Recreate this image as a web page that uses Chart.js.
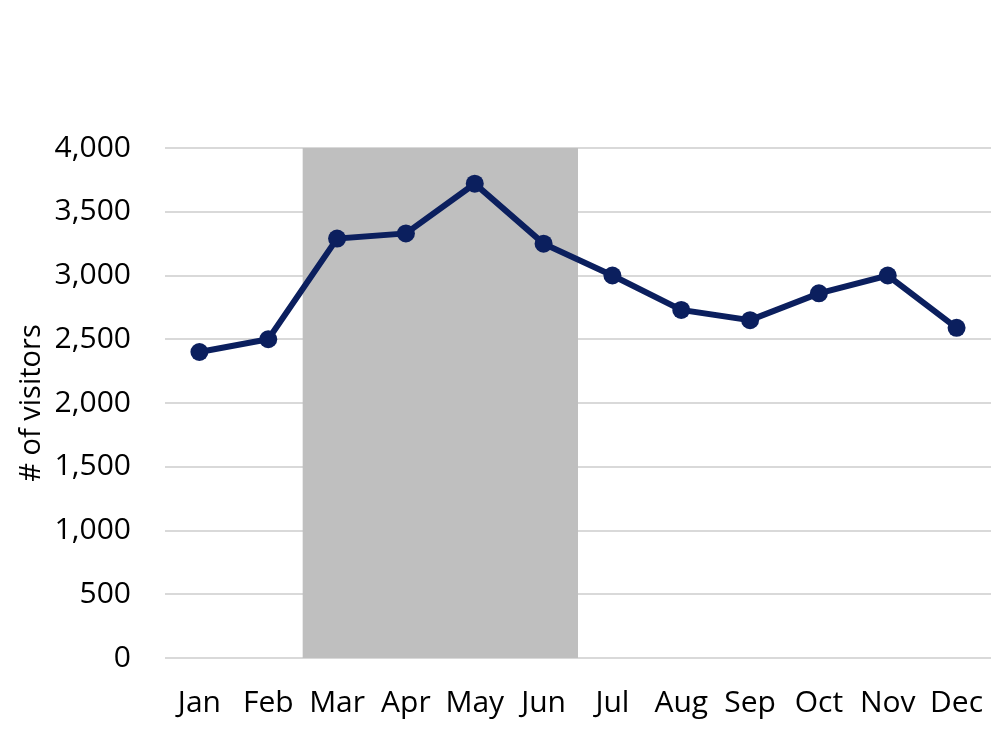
<!DOCTYPE html>
<html>
<head>
<meta charset="utf-8">
<script src="https://cdn.jsdelivr.net/npm/chart.js@4"></script>
<style>
  html, body { margin: 0; padding: 0; background: #fff; }
  #wrap { width: 1000px; height: 750px; }
</style>
</head>
<body>
<div id="wrap"><canvas id="visitors"></canvas></div>
<script>
const months = ["Jan", "Feb", "Mar", "Apr", "May", "Jun", "Jul", "Aug", "Sep", "Oct", "Nov", "Dec"];
const visitors = [2400, 2500, 3290, 3330, 3720, 3250, 3000, 2730, 2650, 2860, 3000, 2590];
const shadedRange = ["Mar", "Jun"];
const yTicks = [0, 500, 1000, 1500, 2000, 2500, 3000, 3500, 4000];

const navy = "#0B1F5E";
const font = "'Open Sans', 'Noto Sans', sans-serif";

// grey band behind the line, from half a category before Mar to half after Jun
const bandPlugin = {
  id: "band",
  beforeDatasetsDraw(chart) {
    const { ctx, scales } = chart;
    const x = scales.x;
    const y = scales.y;
    const i0 = months.indexOf(shadedRange[0]);
    const i1 = months.indexOf(shadedRange[1]);
    const half = (x.getPixelForValue(1) - x.getPixelForValue(0)) / 2;
    const left = x.getPixelForValue(i0) - half;
    const right = x.getPixelForValue(i1) + half;
    const top = y.getPixelForValue(yTicks[yTicks.length - 1]);
    const bottom = y.getPixelForValue(0);
    ctx.save();
    ctx.fillStyle = "#BFBFBF";
    ctx.fillRect(left, top, right - left, bottom - top);
    ctx.restore();
  }
};

new Chart(document.getElementById("visitors"), {
  type: "line",
  data: {
    labels: months,
    datasets: [
      {
        label: "# of visitors",
        data: visitors,
        borderColor: navy,
        backgroundColor: navy,
        borderWidth: 6,
        pointRadius: 9,
        pointHoverRadius: 9,
        pointBorderWidth: 0,
        tension: 0,
        fill: false,
      },
    ],
  },
  options: {
    responsive: true,
    maintainAspectRatio: false,
    animation: false,
    devicePixelRatio: 1,
    layout: { padding: { top: 148, right: 8, left: 14, bottom: 10 } },
    plugins: {
      legend: { display: false },
      tooltip: { enabled: false },
    },
    scales: {
      x: {
        offset: true,
        afterFit(axis) {
          axis.paddingLeft = 0;
          axis.paddingRight = 0;
        },
        grid: { display: false },
        border: { display: false },
        ticks: {
          color: "#000",
          font: { family: font, size: 30 },
          padding: 19,
          maxRotation: 0,
          autoSkip: false,
        },
      },
      y: {
        min: 0,
        max: 4000,
        afterBuildTicks(axis) {
          axis.ticks = yTicks.map((v) => ({ value: v }));
        },
        afterFit(axis) {
          axis.width = 151;
        },
        grid: { color: "#D9D9D9", lineWidth: 2, drawTicks: false },
        border: { display: false },
        ticks: {
          color: "#000",
          font: { family: font, size: 30 },
          padding: 34,
          callback: (v) => v.toLocaleString("en-US"),
        },
        title: {
          display: true,
          text: "# of visitors",
          color: "#000",
          font: { family: font, size: 29 },
          padding: 0,
        },
      },
    },
  },
  plugins: [bandPlugin],
});
</script>
</body>
</html>
